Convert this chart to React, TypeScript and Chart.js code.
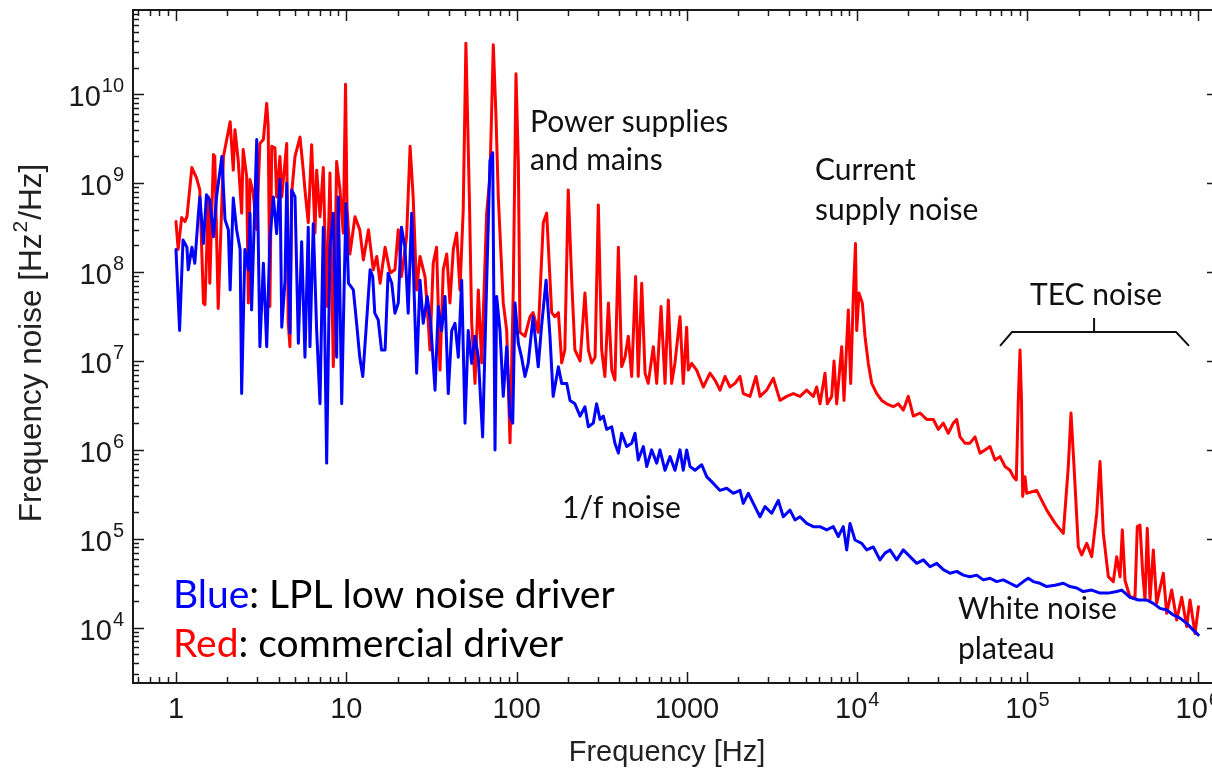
import React, { useEffect, useRef } from "react";
import { Chart, registerables } from "chart.js";

Chart.register(...registerables);

// ---------------- data ----------------
const blueFreq = [
  1.0, 1.05, 1.1, 1.16, 1.18, 1.24, 1.29, 1.35, 1.38, 1.45, 1.51, 1.58, 1.66, 1.73, 1.86, 1.94, 2.03, 2.08, 2.17, 2.27,
  2.38, 2.43, 2.54, 2.66, 2.72, 2.78, 2.98, 3.11, 3.26, 3.41, 3.56, 3.73, 3.9, 4.08, 4.18, 4.37, 4.47, 4.67, 4.78, 5.0,
  5.23, 5.47, 5.72, 5.98, 6.12, 6.4, 6.7, 7.01, 7.33, 7.67, 8.02, 8.39, 8.78, 8.98, 9.4, 9.69, 9.96, 10.3, 11.0, 11.5,
  12.0, 12.5, 13.05, 13.8, 14.3, 14.7, 15.4, 16.1, 16.9, 17.6, 18.5, 19.3, 20.2, 21.1, 22.1, 23.1, 24.2, 25.0, 25.9, 27.1,
  28.3, 29.9, 31.3, 33.2, 34.7, 36.3, 38.0, 39.7, 41.6, 43.5, 45.5, 47.6, 49.8, 52.0, 54.5, 57.0, 59.6, 63.2, 66.7, 69.8,
  72.4, 74.7, 76.4, 79.9, 83.5, 87.5, 91.5, 94.9, 97.9, 102.4, 107, 112, 117, 125, 134, 140, 149, 157, 164, 176,
  184, 197, 206, 220, 236, 252, 264, 282, 295, 309, 323, 338, 362, 378, 396, 414, 443, 474, 496, 518,
  555, 581, 621, 665, 695, 744, 796, 851, 911, 952, 997, 1043, 1116, 1222, 1307, 1429, 1565, 1713, 1873, 2050,
  2144, 2294, 2455, 2687, 2874, 3147, 3441, 3681, 4030, 4313, 4615, 5051, 5524, 6048, 6621, 7239, 7745, 8287, 8676, 9073,
  9706, 10630, 11370, 12430, 13610, 14560, 15580, 17060, 18650, 20420, 22360, 24450, 26770, 29310, 32030, 35080, 38390, 41980, 45950, 50300,
  54990, 60230, 65950, 72100, 78930, 86450, 94470, 101100, 108100, 118400, 129700, 145000, 162300, 177700, 194500, 212700, 238300, 266600, 298300, 334100,
  357400, 399900, 447300, 501100, 548000, 599800, 656800, 717900, 786100, 860700, 941000, 1007000,
];
const blueNoise = [
  1.8e8, 2.2e7, 2.3e8, 1.9e8, 1.06e8, 1.9e8, 1.26e8, 4.2e8, 7.0e8, 2.1e8, 7.4e8, 6.5e8, 2.5e8, 7.0e8, 2.0e9, 3.9e8, 3.0e8, 6.3e7, 6.8e8, 3.0e8,
  1.8e8, 4.3e6, 1.8e8, 1.06e8, 4.6e8, 3.75e7, 3.1e9, 1.45e7, 1.26e8, 1.45e7, 2.3e8, 7.0e8, 2.7e8, 1.1e9, 2.4e7, 8.1e7, 1.0e9, 2.05e7, 8.4e8, 7.0e8,
  1.58e7, 2.2e8, 1.1e7, 3.2e8, 1.45e7, 3.5e8, 2.2e7, 3.3e6, 3.2e8, 7.1e5, 1.9e8, 4.6e8, 1.1e7, 7.0e8, 3.3e6, 5.3e7, 5.9e8, 7.5e7, 6.3e7, 2.65e7,
  1.1e7, 6.7e6, 2.2e7, 1.06e8, 8.9e7, 3.45e7, 2.9e7, 1.33e7, 1.33e7, 9.7e7, 7.5e7, 3.45e7, 4.5e7, 3.2e8, 1.9e8, 3.45e7, 4.6e8, 6.3e7, 7.3e6, 8.1e7,
  2.65e7, 5.3e7, 2.65e7, 4.7e6, 4.1e7, 2.2e7, 5.3e7, 4.3e6, 2.2e7, 2.65e7, 1.1e7, 8.1e7, 2.0e6, 2.2e7, 9.4e6, 1.9e7, 1.1e7, 1.4e6, 7.5e7, 1.8e9,
  2.2e9, 1.0e6, 5.3e7, 2.2e7, 4.0e6, 1.45e7, 2.4e6, 2.0e6, 4.5e7, 1.58e7, 1.1e7, 6.7e6, 9.4e6, 3.15e7, 8.6e6, 2.4e7, 8.1e7, 1.9e7, 4.0e6, 8.6e6,
  5.6e6, 5.6e6, 3.6e6, 3.3e6, 2.4e6, 3.06e6, 1.82e6, 2.0e6, 3.3e6, 2.2e6, 2.4e6, 1.7e6, 1.82e6, 1.19e6, 9.2e5, 1.54e6, 1.09e6, 1.19e6, 1.54e6, 7.7e5,
  1.09e6, 6.5e5, 1.0e6, 7.1e5, 1.0e6, 5.9e5, 8.4e5, 5.9e5, 1.0e6, 5.9e5, 1.0e6, 6.5e5, 5.9e5, 6.8e5, 5.0e5, 4.2e5, 3.5e5, 3.7e5, 3.25e5, 3.5e5,
  2.5e5, 3.25e5, 2.5e5, 1.77e5, 2.3e5, 1.94e5, 2.7e5, 1.77e5, 2.1e5, 1.63e5, 1.77e5, 1.49e5, 1.37e5, 1.37e5, 1.26e5, 1.37e5, 1.06e5, 1.37e5, 7.5e4, 1.49e5,
  9.7e4, 8.9e4, 7.5e4, 8.1e4, 5.8e4, 6.9e4, 7.5e4, 5.8e4, 7.5e4, 6.3e4, 5.3e4, 5.8e4, 4.85e4, 5.3e4, 4.5e4, 4.1e4, 4.3e4, 3.9e4, 3.75e4, 3.9e4,
  3.45e4, 3.6e4, 3.3e4, 3.45e4, 3.16e4, 2.9e4, 3.3e4, 3.6e4, 3.3e4, 3.16e4, 2.9e4, 3.0e4, 3.16e4, 2.9e4, 2.8e4, 2.55e4, 2.65e4, 2.45e4, 2.45e4, 2.55e4,
  2.65e4, 2.2e4, 2.05e4, 2.05e4, 1.88e4, 1.65e4, 1.58e4, 1.39e4, 1.28e4, 1.12e4, 9.4e3, 8.3e3,
];

const redFreq = [
  1.0, 1.03, 1.08, 1.13, 1.16, 1.24, 1.32, 1.38, 1.45, 1.48, 1.55, 1.58, 1.66, 1.69, 1.77, 1.9, 2.08, 2.17, 2.22, 2.32,
  2.43, 2.48, 2.6, 2.66, 2.72, 2.84, 2.98, 3.11, 3.26, 3.41, 3.48, 3.56, 3.65, 3.81, 3.9, 4.08, 4.18, 4.47, 4.56, 4.67,
  4.78, 5.0, 5.35, 5.59, 5.72, 5.98, 6.26, 6.55, 6.7, 7.01, 7.33, 7.67, 8.02, 8.39, 8.78, 9.18, 9.6, 9.9, 10.1, 10.5,
  11.25, 12.0, 12.6, 13.5, 14.4, 15.1, 15.8, 16.9, 18.1, 19.3, 20.2, 21.1, 22.6, 23.7, 24.7, 25.9, 27.1, 29.0, 30.3, 31.0,
  32.4, 33.9, 35.5, 37.1, 38.9, 40.6, 42.5, 44.5, 46.5, 48.6, 50.4, 52.8, 54.5, 57.0, 59.6, 62.4, 66.7, 69.8, 73.0, 75.7,
  78.1, 83.5, 87.5, 91.5, 95.6, 99.2, 102.4, 104.7, 112, 120, 125, 134, 143.5, 150.2, 160.7, 168, 176, 184, 192, 201,
  211, 220, 236, 252, 264, 276, 289, 302, 316, 330, 346, 362, 378, 396, 414, 433, 453, 474, 500, 518,
  543, 568, 593, 635, 665, 705, 744, 778, 814, 851, 911, 952, 997, 1019, 1067, 1141, 1249, 1367, 1462, 1565,
  1674, 1791, 1916, 2050, 2144, 2347, 2545, 2687, 2941, 3216, 3521, 3855, 4215, 4615, 5051, 5524, 5784, 6048, 6471, 6674,
  7086, 7310, 7579, 8110, 8366, 8866, 9158, 9487, 9772, 9932, 10250, 10715, 11110, 11620, 12170, 13020, 13930, 14900, 16290, 17430,
  18650, 19960, 21360, 23380, 25600, 27990, 29950, 32030, 34270, 36670, 38390, 40150, 42950, 45950, 49180, 52610, 56300, 60230, 64450, 68950,
  73780, 78930, 82530, 85940, 88310, 90360, 92200, 93690, 96670, 98920, 113200, 129700, 145000, 162300, 173600, 180100, 187600, 198800, 208100, 222700,
  238300, 255000, 266600, 278700, 298300, 319100, 334100, 349400, 360400, 373800, 399900, 427800, 441300, 457700, 474700, 489700, 505100, 524000, 548000, 573700,
  627300, 656800, 702600, 751600, 804300, 860700, 900000, 962900, 1009000,
];
const redNoise = [
  3.7e8, 1.8e8, 4.1e8, 3.7e8, 4.2e8, 1.5e9, 1.15e9, 8.4e8, 4.5e7, 4.3e7, 7.0e8, 7.5e7, 2.1e9, 2.0e9, 3.9e7, 2.0e9, 4.9e9, 1.4e9, 4.0e9, 1.8e9,
  4.6e8, 2.4e9, 1.2e9, 4.5e7, 1.1e9, 7.8e8, 3.0e8, 2.8e9, 3.1e9, 7.9e9, 4.3e9, 4.1e7, 2.6e9, 2.5e9, 7.0e8, 2.0e9, 7.0e8, 2.8e9, 2.7e7, 1.45e7,
  7.8e8, 2.0e9, 3.3e9, 1.4e9, 8.4e8, 3.6e8, 2.7e9, 2.75e8, 1.4e9, 4.2e8, 1.5e9, 4.1e7, 1.3e9, 8.6e6, 1.75e9, 8.4e8, 2.75e8, 1.3e10, 5.4e8, 1.6e8,
  4.2e8, 3.0e8, 1.37e8, 3.0e8, 1.06e8, 1.5e8, 7.5e7, 1.9e8, 9.8e7, 1.06e8, 3.0e8, 8.9e7, 2.5e8, 2.6e9, 7.0e8, 6.3e7, 1.5e8, 8.9e7, 2.7e7, 1.33e7,
  1.26e8, 1.9e8, 7.9e6, 1.06e8, 1.6e8, 4.5e7, 1.8e8, 2.75e8, 6.3e7, 5.0e8, 3.75e10, 7.0e8, 2.7e7, 5.6e6, 6.3e7, 9.5e6, 4.6e8, 1.2e9, 3.6e10, 5.6e9,
  7.0e8, 4.5e7, 2.2e7, 1.2e6, 6.3e7, 1.7e10, 1.7e9, 2.1e7, 1.9e7, 3.15e7, 3.5e7, 2.1e7, 3.6e8, 4.6e8, 3.5e7, 3.15e7, 3.5e7, 9.5e6, 1.33e7, 8.4e8,
  7.5e7, 1.33e7, 1.0e7, 5.8e7, 1.33e7, 9.5e6, 1.1e7, 5.7e8, 1.33e7, 6.7e6, 4.5e7, 7.9e6, 6.1e6, 1.9e8, 8.6e6, 1.1e7, 1.9e7, 6.7e6, 8.9e7, 6.7e6,
  7.5e7, 7.3e6, 5.6e6, 1.45e7, 5.6e6, 4.1e7, 5.6e6, 4.85e7, 5.6e6, 9.5e6, 3.15e7, 5.6e6, 2.4e7, 7.9e6, 9.4e6, 7.9e6, 5.1e6, 7.3e6, 6.1e6, 4.7e6,
  6.7e6, 5.1e6, 5.6e6, 6.7e6, 4.3e6, 4.0e6, 6.7e6, 4.0e6, 4.7e6, 6.4e6, 3.6e6, 4.0e6, 4.3e6, 4.0e6, 4.7e6, 4.0e6, 5.1e6, 3.3e6, 7.3e6, 3.3e6,
  4.0e6, 1.0e7, 3.3e6, 1.45e7, 3.6e6, 3.75e7, 5.6e6, 5.3e7, 2.1e8, 2.2e7, 5.8e7, 4.5e7, 1.9e7, 9.4e6, 5.6e6, 4.3e6, 3.6e6, 3.3e6, 3.06e6, 3.3e6,
  2.8e6, 4.0e6, 2.4e6, 2.6e6, 2.2e6, 2.2e6, 1.7e6, 2.0e6, 1.54e6, 2.0e6, 2.2e6, 1.4e6, 1.19e6, 1.19e6, 1.4e6, 9.2e5, 1.0e6, 1.09e6, 7.7e5, 8.4e5,
  6.5e5, 5.9e5, 5.0e5, 4.6e5, 3.6e6, 1.33e7, 3.6e6, 3.0e5, 5.0e5, 3.25e5, 3.5e5, 2.1e5, 1.5e5, 1.15e5, 6.5e5, 2.6e6, 6.5e5, 8.1e4, 6.6e4, 8.9e4,
  6.3e4, 1.94e5, 7.4e5, 1.15e5, 3.75e4, 3.3e4, 6.3e4, 3.75e4, 1.26e5, 3.4e4, 2.2e4, 2.2e4, 1.37e5, 1.43e5, 4.1e4, 2.05e4, 1.31e5, 2.05e4, 7.5e4, 1.88e4,
  4.1e4, 1.45e4, 2.65e4, 1.22e4, 2.2e4, 1.03e4, 2.05e4, 8.6e3, 1.72e4,
];

// axis ranges and ticks
const xRange = [0.5593, 1.314e6];
const yRange = [2388, 8.87e10];
const xMajorTicks = [1, 10, 100, 1000, 1e4, 1e5, 1e6];
const xTickBase = ["1", "10", "100", "1000", "10", "10", "10"];
const xTickExp = ["", "", "", "", "4", "5", "6"];
const yMajorTicks = [1e4, 1e5, 1e6, 1e7, 1e8, 1e9, 1e10];
const yTickBase = ["10", "10", "10", "10", "10", "10", "10"];
const yTickExp = ["4", "5", "6", "7", "8", "9", "10"];

const xTitle = "Frequency [Hz]";
const yTitleParts = ["Frequency noise [Hz", "2", "/Hz]"];

// text annotations anchored at (frequency, noise) = left edge / baseline
const noteText = ["Power supplies", "and mains", "Current", "supply noise", "TEC noise", "1/f noise", "White noise", "plateau"];
const noteFreq = [120, 120, 5650, 5650, 1.034e5, 185, 3.91e4, 3.91e4];
const noteNoise = [3.77e9, 1.41e9, 1.09e9, 3.85e8, 4.27e7, 1.71e5, 1.25e4, 4450];

// TEC bracket (frequency, noise) vertices
const bracketFreq = [6.9e4, 8.11e4, 7.45e5, 8.88e5];
const bracketNoise = [1.48e7, 2.12e7, 2.12e7, 1.48e7];
const bracketStemFreq = 2.46e5;
const bracketStemNoise = [2.12e7, 3.04e7];

// legend text lines: coloured word + rest
const legendWords = ["Blue", "Red"];
const legendRest = [": LPL low noise driver", ": commercial driver"];
const legendFreq = 0.96;
const legendNoise = [1.67e4, 4690];

const BLUE = "#0000ff";
const RED = "#ff0000";
const INK = "#1a1a1a";

const AXIS_FONT = '"Liberation Sans", Arial, sans-serif';
const NOTE_FONT = 'Lato, "Open Sans", sans-serif';

function drawPow(ctx: CanvasRenderingContext2D, base: string, exp: string, x: number, y: number, align: string, size: number, supSize: number, raise: number) {
  ctx.font = `${size}px ${AXIS_FONT}`;
  const wb = ctx.measureText(base).width;
  ctx.font = `${supSize}px ${AXIS_FONT}`;
  const we = exp ? ctx.measureText(exp).width + 1 : 0;
  const total = wb + we;
  let sx = x;
  if (align === "center") sx = x - total / 2;
  else if (align === "right") sx = x - total;
  ctx.textAlign = "left";
  ctx.textBaseline = "alphabetic";
  ctx.font = `${size}px ${AXIS_FONT}`;
  ctx.fillText(base, sx, y);
  if (exp) {
    ctx.font = `${supSize}px ${AXIS_FONT}`;
    ctx.fillText(exp, sx + wb + 1, y - raise);
  }
}

const decorPlugin = {
  id: "decor",
  afterDraw(chart: any) {
    const { ctx, chartArea: a, scales } = chart;
    const xs = scales.x;
    const ys = scales.y;
    ctx.save();

    // frame
    ctx.strokeStyle = INK;
    ctx.lineWidth = 2;
    ctx.strokeRect(a.left, a.top, a.right - a.left, a.bottom - a.top);

    // ticks (inward)
    ctx.lineWidth = 1.5;
    const majorLen = 11;
    const minorLen = 6;
    ctx.beginPath();
    for (let e = -1; e <= 6; e++) {
      for (let m = 1; m <= 9; m++) {
        const v = m * Math.pow(10, e);
        if (v < xs.min || v > xs.max) continue;
        const px = Math.round(xs.getPixelForValue(v)) + 0.5;
        const len = m === 1 ? majorLen : minorLen;
        ctx.moveTo(px, a.bottom);
        ctx.lineTo(px, a.bottom - len);
        ctx.moveTo(px, a.top);
        ctx.lineTo(px, a.top + len);
      }
    }
    for (let e = 3; e <= 10; e++) {
      for (let m = 1; m <= 9; m++) {
        const v = m * Math.pow(10, e);
        if (v < ys.min || v > ys.max) continue;
        const py = Math.round(ys.getPixelForValue(v)) + 0.5;
        const len = m === 1 ? majorLen : minorLen;
        ctx.moveTo(a.left, py);
        ctx.lineTo(a.left + len, py);
        ctx.moveTo(a.right, py);
        ctx.lineTo(a.right - len, py);
      }
    }
    ctx.stroke();

    // tick labels
    ctx.fillStyle = INK;
    xMajorTicks.forEach((v, i) => {
      const px = xs.getPixelForValue(v);
      drawPow(ctx, xTickBase[i], xTickExp[i], px, a.bottom + 35, "center", 29, 20, 12);
    });
    yMajorTicks.forEach((v, i) => {
      const py = ys.getPixelForValue(v);
      drawPow(ctx, yTickBase[i], yTickExp[i], a.left - 9, py + 12, "right", 29, 20, 14);
    });

    // axis titles
    ctx.font = `29px ${AXIS_FONT}`;
    ctx.textAlign = "center";
    ctx.textBaseline = "alphabetic";
    ctx.fillStyle = "#222";
    ctx.fillText(xTitle, 667, 761);

    ctx.save();
    ctx.translate(41, 343);
    ctx.rotate(-Math.PI / 2);
    ctx.font = `31.5px ${AXIS_FONT}`;
    const w1 = ctx.measureText(yTitleParts[0]).width;
    const w3 = ctx.measureText(yTitleParts[2]).width;
    ctx.font = `21px ${AXIS_FONT}`;
    const w2 = ctx.measureText(yTitleParts[1]).width;
    const tot = w1 + w2 + w3 + 2;
    ctx.textAlign = "left";
    ctx.font = `31.5px ${AXIS_FONT}`;
    ctx.fillText(yTitleParts[0], -tot / 2, 0);
    ctx.font = `21px ${AXIS_FONT}`;
    ctx.fillText(yTitleParts[1], -tot / 2 + w1 + 1, -14);
    ctx.font = `31.5px ${AXIS_FONT}`;
    ctx.fillText(yTitleParts[2], -tot / 2 + w1 + w2 + 2, 0);
    ctx.restore();

    // annotations
    ctx.fillStyle = "#111";
    ctx.textAlign = "left";
    ctx.font = `30px ${NOTE_FONT}`;
    noteText.forEach((t, i) => {
      ctx.fillText(t, xs.getPixelForValue(noteFreq[i]), ys.getPixelForValue(noteNoise[i]));
    });

    // bracket
    ctx.strokeStyle = "#111";
    ctx.lineWidth = 2;
    ctx.beginPath();
    bracketFreq.forEach((f, i) => {
      const px = xs.getPixelForValue(f);
      const py = ys.getPixelForValue(bracketNoise[i]);
      if (i === 0) ctx.moveTo(px, py);
      else ctx.lineTo(px, py);
    });
    const sx = xs.getPixelForValue(bracketStemFreq);
    ctx.moveTo(sx, ys.getPixelForValue(bracketStemNoise[0]));
    ctx.lineTo(sx, ys.getPixelForValue(bracketStemNoise[1]));
    ctx.stroke();

    // legend text
    ctx.font = `39px ${NOTE_FONT}`;
    const lx = xs.getPixelForValue(legendFreq);
    legendWords.forEach((w, i) => {
      const ly = ys.getPixelForValue(legendNoise[i]);
      ctx.fillStyle = i === 0 ? BLUE : RED;
      ctx.fillText(w, lx, ly);
      const ww = ctx.measureText(w).width;
      ctx.fillStyle = "#000";
      ctx.fillText(legendRest[i], lx + ww, ly);
    });

    ctx.restore();
  },
};

export default function App() {
  const ref = useRef<HTMLCanvasElement | null>(null);
  useEffect(() => {
    if (!ref.current) return;
    const chart = new Chart(ref.current, {
      type: "line",
      data: {
        datasets: [
          {
            label: "Blue: LPL low noise driver",
            data: blueFreq.map((f, i) => ({ x: f, y: blueNoise[i] })),
            borderColor: BLUE,
            backgroundColor: BLUE,
            borderWidth: 3,
          },
          {
            label: "Red: commercial driver",
            data: redFreq.map((f, i) => ({ x: f, y: redNoise[i] })),
            borderColor: RED,
            backgroundColor: RED,
            borderWidth: 3,
          },
        ],
      },
      options: {
        responsive: false,
        animation: false,
        events: [],
        layout: { padding: { left: 133, top: 10, right: 22, bottom: 92 } },
        elements: { point: { radius: 0 }, line: { tension: 0, borderJoinStyle: "round", borderCapStyle: "round" } },
        plugins: { legend: { display: false }, tooltip: { enabled: false }, title: { display: false } },
        scales: {
          x: { type: "logarithmic", min: xRange[0], max: xRange[1], display: false },
          y: { type: "logarithmic", min: yRange[0], max: yRange[1], display: false },
        },
      } as any,
      plugins: [decorPlugin],
    });
    const fonts: any = (document as any).fonts;
    if (fonts && fonts.load) {
      Promise.all([fonts.load(`27px Lato`), fonts.load(`29px "Liberation Sans"`)])
        .then(() => chart.draw())
        .catch(() => {});
    }
    return () => chart.destroy();
  }, []);
  return (
    <div style={{ position: "fixed", left: 0, top: 0, width: 1212, height: 775, overflow: "hidden", background: "#fff" }}>
      <canvas ref={ref} width={1240} height={775} style={{ display: "block", width: 1240, height: 775 }} />
    </div>
  );
}
